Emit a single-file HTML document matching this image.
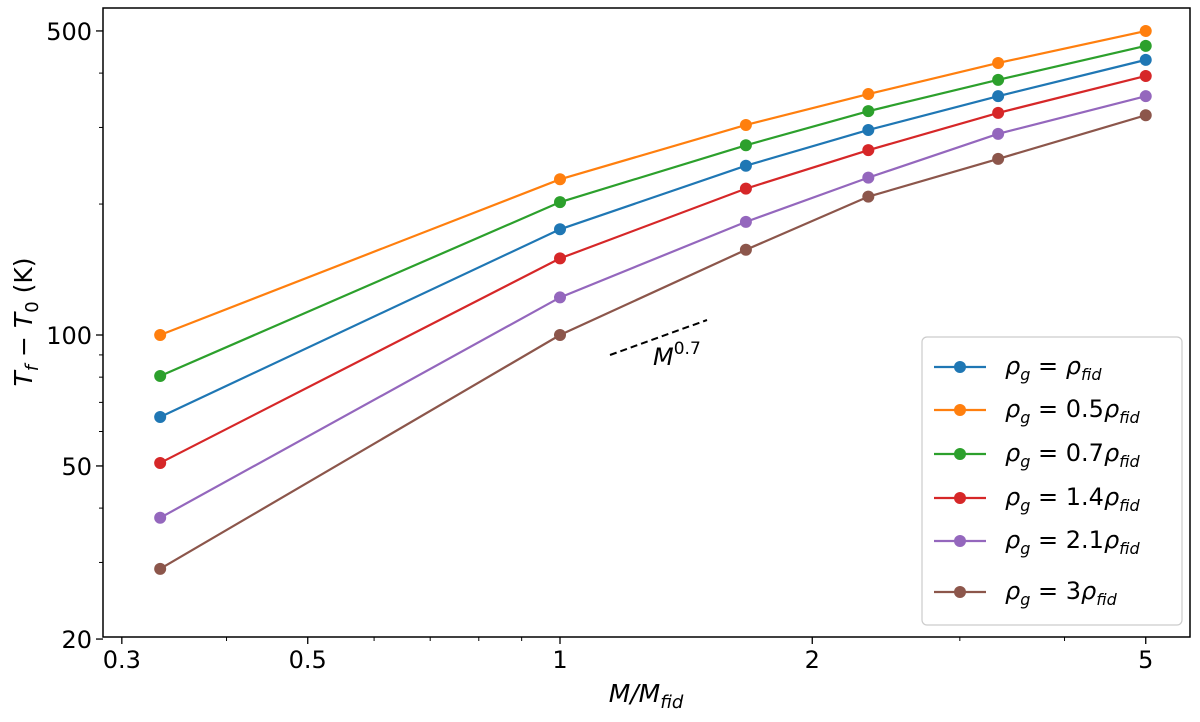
<!DOCTYPE html>
<html><head><meta charset="utf-8"><style>
body{margin:0;background:#fff;}
svg text{font-family:"DejaVu Sans","Liberation Sans",sans-serif;fill:#000;}
</style></head><body>
<svg id="chart" width="1200" height="717" xmlns="http://www.w3.org/2000/svg"></svg>
<script>
const xValues=[1/3,1,5/3,2.333,3.333,5];
const seriesBlue=[64.8,175,245,296,354,429];
const seriesOrange=[100,228,304,358,422,500];
const seriesGreen=[80.5,202,273,327,386,462];
const seriesRed=[50.8,150,217,266,324,394];
const seriesPurple=[38,122,182,230,290,354];
const seriesBrown=[29,100,157,208,254,320];
const xTicks=[0.3,0.5,1,2,5];
const xTickLabels=["0.3","0.5","1","2","5"];
const xMinor=[0.4,0.6,0.7,0.8,0.9,3,4];
const yTicks=[20,50,100,500];
const yTickLabels=["20","50","100","500"];
const yMinor=[30,40,60,70,80,90,200,300,400];

const NS="http://www.w3.org/2000/svg";
const svg=document.getElementById('chart');
const L=103,R=1190,T=8,B=637;
const xs=v=>560+838*Math.log10(v);
const ys=v=>335-435*Math.log10(v/100);
function mk(tag,attrs,parent){const e=document.createElementNS(NS,tag);for(const k in attrs)e.setAttribute(k,attrs[k]);(parent||svg).appendChild(e);return e;}

const colors=["#1f77b4","#ff7f0e","#2ca02c","#d62728","#9467bd","#8c564b"];
const all=[seriesBlue,seriesOrange,seriesGreen,seriesRed,seriesPurple,seriesBrown];
all.forEach((s,i)=>{
  const g=mk('g',{});
  
  
  const pl=mk('polyline',{points:s.map((v,j)=>xs(xValues[j])+','+ys(v)).join(' '),fill:'none',stroke:colors[i],'stroke-width':2.2},g);
  
  
  s.forEach((v,j)=>{
    const c=mk('circle',{cx:xs(xValues[j]),cy:ys(v),r:6,fill:colors[i]},g);
    
    
  });
});
const sl=mk('line',{x1:610,y1:355,x2:707,y2:320,stroke:'#000','stroke-width':2,'stroke-dasharray':'7,4'});


const st=mk('text',{x:653,y:365,'font-size':24,'font-style':'italic'});
st.innerHTML='M<tspan dy="-11" font-size="17" font-style="normal">0.7</tspan>';



const fr=mk('rect',{x:L,y:T,width:R-L,height:B-T,fill:'none',stroke:'#000','stroke-width':1.5});


xTicks.forEach((v,i)=>{
  mk('line',{x1:xs(v),x2:xs(v),y1:B,y2:B+7,stroke:'#000','stroke-width':1.3});
  const t=mk('text',{x:xs(v),y:B+31,'font-size':24,'text-anchor':'middle'});t.textContent=xTickLabels[i];
  
  
});
xMinor.forEach(v=>mk('line',{x1:xs(v),x2:xs(v),y1:B,y2:B+4,stroke:'#000','stroke-width':1}));
yTicks.forEach((v,i)=>{
  mk('line',{x1:L-7,x2:L,y1:ys(v),y2:ys(v),stroke:'#000','stroke-width':1.3});
  const t=mk('text',{x:L-11,y:ys(v)+9,'font-size':24,'text-anchor':'end'});t.textContent=yTickLabels[i];
  
  
});
yMinor.forEach(v=>mk('line',{x1:L-4,x2:L,y1:ys(v),y2:ys(v),stroke:'#000','stroke-width':1}));

const xt=mk('text',{x:646,y:702,'font-size':25,'text-anchor':'middle','font-style':'italic'});
xt.innerHTML='M/M<tspan dy="6" font-size="18">fid</tspan>';


const yt=mk('text',{x:0,y:0,'font-size':25,'text-anchor':'middle',transform:'translate(32,322) rotate(-90)'});
yt.innerHTML='<tspan font-style="italic">T</tspan><tspan dy="6" font-size="18" font-style="italic">f</tspan><tspan dy="-6"> − </tspan><tspan font-style="italic">T</tspan><tspan dy="6" font-size="18">0</tspan><tspan dy="-6"> (K)</tspan>';



const lg=mk('g',{});


mk('rect',{x:922,y:337,width:260,height:288,rx:5,fill:'#fff','fill-opacity':0.8,stroke:'#ccc','stroke-width':1.2},lg);
const coef=["","0.5","0.7","1.4","2.1","3"];
const ly=[367,410,454,498,541,592];
coef.forEach((c,i)=>{
  const y=ly[i];
  const e=mk('g',{},lg);
  
  
  mk('line',{x1:934,x2:986,y1:y,y2:y,stroke:colors[i],'stroke-width':2.2},e);
  mk('circle',{cx:960,cy:y,r:6,fill:colors[i]},e);
  const t=mk('text',{x:1005,y:y+7,'font-size':24},e);
  t.innerHTML='<tspan font-style="italic">ρ</tspan><tspan dy="6" font-size="16" font-style="italic">g</tspan><tspan dy="-6"> = '+c+'</tspan><tspan font-style="italic">ρ</tspan><tspan dy="6" font-size="16" font-style="italic">fid</tspan>';
});
</script>
</body></html>
